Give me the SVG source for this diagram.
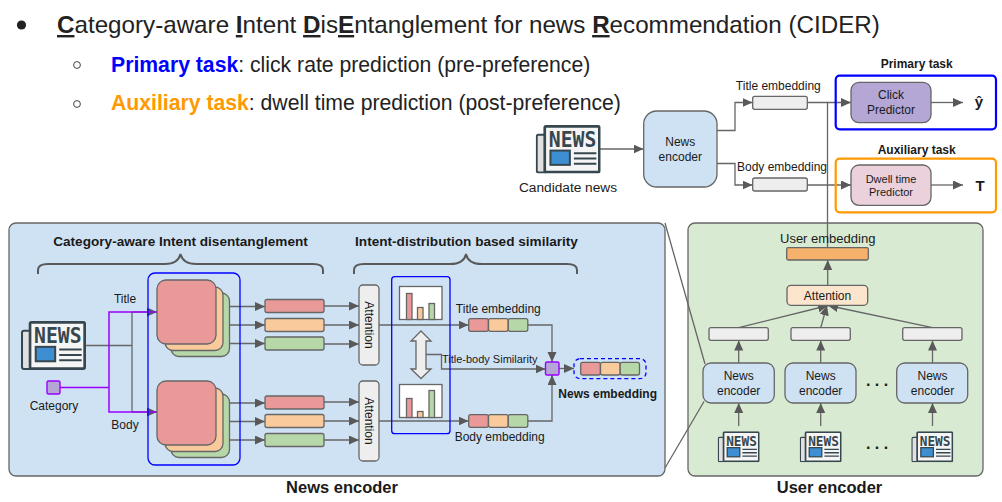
<svg xmlns="http://www.w3.org/2000/svg" xmlns:xlink="http://www.w3.org/1999/xlink" width="1002" height="502" viewBox="0 0 1002 502">
<style>
text{font-family:"Liberation Sans",Arial,sans-serif;fill:#1a1a1a;text-anchor:middle}
.h{font-size:24.2px;text-anchor:start;fill:#222}
.h2{font-size:21.2px;text-anchor:start;fill:#222}
.s{font-size:12px}
.b{font-weight:bold}
.box{stroke:#666;stroke-width:1.3}
.l{fill:none;stroke:#666;stroke-width:1.3}
.a{marker-end:url(#ah)}
.r{fill:#ea9999}.o{fill:#f9cb9c}.g{fill:#b6d7a8}.w{fill:#eee}
.p{fill:#b4a7d6;stroke:#9900ff;stroke-width:1.4}
.ne{fill:#cfe2f3}
.u{fill:none;stroke:#595959;stroke-width:2}
.pl{fill:none;stroke:#9900ff;stroke-width:1.5}
</style>
<defs>
<marker id="ah" markerUnits="userSpaceOnUse" markerWidth="11" markerHeight="10" refX="10" refY="4.5" orient="auto"><path d="M0 0L10 4.5L0 9z" fill="#595959"/></marker>
<symbol id="news" viewBox="0 0 194 146" preserveAspectRatio="none">
<rect x="3" y="29" width="30" height="114" rx="6" fill="#e0e0e0" stroke="#37474f" stroke-width="6"/>
<rect x="27" y="4" width="163" height="138" rx="4" fill="#f5f5f5" stroke="#37474f" stroke-width="8"/>
<text x="110" y="67" font-size="62" font-weight="bold" textLength="142" lengthAdjust="spacingAndGlyphs" style="font-family:'DejaVu Sans Mono',monospace;fill:#37474f">NEWS</text>
<rect x="44" y="77" width="58" height="43" fill="#3d8fd1" stroke="#37474f" stroke-width="6"/>
<path d="M114 85H181M114 101H181M114 117H181" stroke="#37474f" stroke-width="6" fill="none"/>
</symbol>
</defs>

<g id="heading">
<circle cx="21.5" cy="25" r="4.6" fill="#222"/>
<text class="h" x="57" y="33"><tspan class="b" text-decoration="underline">C</tspan>ategory-aware <tspan class="b" text-decoration="underline">I</tspan>ntent <tspan class="b" text-decoration="underline">D</tspan>is<tspan class="b" text-decoration="underline">E</tspan>ntanglement for news <tspan class="b" text-decoration="underline">R</tspan>ecommendation (CIDER)</text>
<circle cx="77" cy="65" r="3.4" fill="none" stroke="#444"/>
<text class="h2" x="111" y="72"><tspan class="b" fill="#0000ff">Primary task</tspan>: click rate prediction (pre-preference)</text>
<circle cx="77" cy="104" r="3.4" fill="none" stroke="#444"/>
<text class="h2" x="111" y="110"><tspan class="b" fill="#ff9900">Auxiliary task</tspan>: dwell time prediction (post-preference)</text>
</g>

<g id="panels">
<rect id="news-encoder-panel" class="box ne" x="9" y="223" width="656" height="253" rx="7"/>
<rect id="user-encoder-panel" class="box" x="688" y="223" width="295" height="253" rx="7" fill="#d9ead3"/>
<text class="b" x="342" y="492.500" font-size="16.500">News encoder</text>
<text class="b" x="829.500" y="492.500" font-size="16.500">User encoder</text>
<text class="b" x="180.500" y="245.500" font-size="13.600">Category-aware Intent disentanglement</text>
<text class="b" x="466.500" y="245.500" font-size="13.600">Intent-distribution based similarity</text>
</g>

<g id="connectors">
<path class="u" d="M38 274V270Q38 264 48 264H165Q178 264 180.500 254Q183 264 196 264H313Q323 264 323 270V274"/>
<path class="u" d="M354 274V270Q354 264 364 264H450Q464 264 466 254Q468 264 482 264H567Q577 264 577 270V274"/>
<path class="l" d="M86 345.500H132M132 312V412"/>
<path class="l a" d="M132 312H157"/>
<path class="l a" d="M132 412H157"/>
<path class="pl" d="M60 387.500H109M157 312H109V412H157"/>
<path class="l a" d="M216 306.500H265"/><path class="l a" d="M223 325H265"/><path class="l a" d="M229.500 343.500H265"/>
<path class="l a" d="M216 403H265"/><path class="l a" d="M223 421.500H265"/><path class="l a" d="M229.500 440H265"/>
<path class="l a" d="M324 306H359"/><path class="l a" d="M324 325H359"/><path class="l a" d="M324 344H359"/>
<path class="l a" d="M324 402H359"/><path class="l a" d="M324 421H359"/><path class="l a" d="M324 440H359"/>
<path class="l a" d="M379 325H468.500"/><path class="l a" d="M379 421H468.500"/>
<path class="l a" d="M528 325H552V362"/><path class="l a" d="M528 421H552V375"/>
<path class="l a" d="M426 354.500H441.500V369H545.500"/>
<path class="l a" d="M559 368.500H574"/>
<path class="l" d="M665 223L705 364M665 468L704 401.500"/>
<path class="l a" d="M600 149H643.500"/>
<path class="l a" d="M717 130.500H735V102.500H752.500"/>
<path class="l a" d="M717 163.500H735V185H752.500"/>
<path class="l a" d="M807 102.500H851"/>
<path class="l a" d="M807 185H851"/>
<path class="l a" d="M931 102.500H963"/>
<path class="l a" d="M931 185H963"/>
<path class="l" d="M827.500 103V260"/>
<path class="l a" d="M827.700 285V260"/>
<path class="l a" d="M738.700 327.700L828 305.500"/>
<path class="l a" d="M820.700 327.700L827 305.500"/>
<path class="l a" d="M932.500 327.700L828 305.500"/>
<path class="l a" d="M738.700 363V340.500"/><path class="l a" d="M820.700 363V340.500"/><path class="l a" d="M932.500 363V340.500"/>
<path class="l a" d="M738.700 426V403"/><path class="l a" d="M820.700 426V403"/><path class="l a" d="M932.500 426V403"/>
</g>

<g id="news-input">
<use href="#news" xlink:href="#news" x="21" y="321" width="65" height="49"/>
<rect id="category" class="p" x="47" y="381" width="13" height="13" rx="1.500"/>
<text class="s" x="54" y="410">Category</text>
<text class="s" x="125" y="303">Title</text>
<text class="s" x="125" y="429">Body</text>
</g>

<g id="intent-stacks">
<rect x="148" y="273" width="92" height="192" rx="7" fill="none" stroke="#0000ff" stroke-width="1.300"/>
<rect class="box g" x="171" y="293" width="58.500" height="63.500" rx="8"/>
<rect class="box o" x="165" y="287" width="58" height="63.500" rx="8"/>
<rect class="box r" x="157" y="280" width="59" height="64" rx="9"/>
<rect class="box g" x="171" y="394" width="58.500" height="63.500" rx="8"/>
<rect class="box o" x="165" y="388" width="58" height="63.500" rx="8"/>
<rect class="box r" x="157" y="381" width="59" height="64" rx="9"/>
</g>

<g id="intent-bars">
<rect class="box r" x="265" y="299.500" width="59" height="13" rx="2"/>
<rect class="box o" x="265" y="318.500" width="59" height="13" rx="2"/>
<rect class="box g" x="265" y="337" width="59" height="13" rx="2"/>
<rect class="box r" x="265" y="396" width="59" height="13" rx="2"/>
<rect class="box o" x="265" y="414.500" width="59" height="13" rx="2"/>
<rect class="box g" x="265" y="433.500" width="59" height="13" rx="2"/>
</g>

<g id="attention-title"><rect class="box w" x="359" y="285" width="20" height="80" rx="4"/><text class="s" transform="translate(369 325) rotate(90)" y="4">Attention</text></g>
<g id="attention-body"><rect class="box w" x="359" y="381" width="20" height="80" rx="4"/><text class="s" transform="translate(369 421) rotate(90)" y="4">Attention</text></g>

<g id="distributions">
<rect x="391.700" y="276.700" width="58.300" height="157" rx="3" fill="none" stroke="#0000ff" stroke-width="1.300"/>
<rect class="box" x="399.500" y="286.500" width="42.500" height="33" fill="#fff"/>
<rect class="box r" x="406.500" y="293.500" width="5.500" height="26"/><rect class="box o" x="417.500" y="307.500" width="5.500" height="12"/><rect class="box g" x="429" y="303.500" width="5.500" height="16"/>
<rect class="box" x="399.500" y="384.500" width="42.500" height="33" fill="#fff"/>
<rect class="box r" x="406.500" y="398.500" width="5.500" height="19"/><rect class="box o" x="417.500" y="411.500" width="5.500" height="6"/><rect class="box g" x="429" y="390.500" width="5.500" height="27"/>
<path class="box" fill="#eee" d="M421 331L431 341H426V369H431L421 378.500L411 369H416V341H411Z"/>
<text x="489.700" y="363" font-size="11">Title-body Similarity</text>
</g>

<g id="title-embedding">
<text class="s" x="498.300" y="313">Title embedding</text>
<rect class="box r" x="468.700" y="318.700" width="19.700" height="12.600" rx="2"/><rect class="box o" x="488.500" y="318.700" width="19.700" height="12.600" rx="2"/><rect class="box g" x="508.300" y="318.700" width="19.500" height="12.600" rx="2"/>
</g>
<g id="body-embedding">
<text class="s" x="499.700" y="441">Body embedding</text>
<rect class="box r" x="468.700" y="414.700" width="19.700" height="12.600" rx="2"/><rect class="box o" x="488.500" y="414.700" width="19.700" height="12.600" rx="2"/><rect class="box g" x="508.300" y="414.700" width="19.500" height="12.600" rx="2"/>
</g>
<g id="news-embedding">
<rect class="p" x="545.500" y="362" width="13.500" height="13" rx="1.500"/>
<rect x="574" y="358.700" width="72" height="20" rx="6" fill="none" stroke="#0000ff" stroke-width="1.300" stroke-dasharray="4 3"/>
<rect class="box r" x="580.700" y="362.300" width="19.700" height="12.700" rx="2"/><rect class="box o" x="600.500" y="362.300" width="19.700" height="12.700" rx="2"/><rect class="box g" x="620.200" y="362.300" width="19.300" height="12.700" rx="2"/>
<text class="s b" x="607.700" y="398">News embedding</text>
</g>

<g id="candidate">
<use href="#news" xlink:href="#news" x="535.700" y="125" width="65" height="48.500"/>
<text x="568" y="191.500" font-size="13.700">Candidate news</text>
</g>
<g id="news-encoder-top">
<rect class="box ne" x="643.700" y="111" width="73.300" height="76" rx="13"/>
<text class="s" x="680.300" y="146">News</text><text class="s" x="680.300" y="161">encoder</text>
</g>
<g id="title-vector"><text class="s" x="778.300" y="90">Title embedding</text><rect class="box w" x="752.700" y="96.300" width="54.600" height="13" rx="2"/></g>
<g id="body-vector"><text class="s" x="782" y="171">Body embedding</text><rect class="box w" x="752.700" y="178" width="54.600" height="13" rx="2"/></g>
<g id="primary-task">
<text class="s b" x="916.700" y="68">Primary task</text>
<rect x="835.700" y="75.700" width="160.300" height="53.600" rx="4" fill="none" stroke="#0000ff" stroke-width="2.200"/>
<rect class="box" x="851" y="82.300" width="80" height="40.400" rx="8" fill="#b4a7d6"/>
<text class="s" x="891" y="99">Click</text><text class="s" x="891" y="114">Predictor</text>
<text class="b" x="979" y="107" font-size="15">ŷ</text>
</g>
<g id="auxiliary-task">
<text class="s b" x="916.700" y="154">Auxiliary task</text>
<rect x="835.700" y="158.700" width="160.300" height="53.600" rx="4" fill="none" stroke="#ff9900" stroke-width="2.200"/>
<rect class="box" x="851" y="165" width="80" height="40.300" rx="8" fill="#ead1dc"/>
<text x="891" y="183" font-size="11">Dwell time</text><text x="891" y="196" font-size="11">Predictor</text>
<text class="b" x="980" y="190.500" font-size="15">T</text>
</g>

<g id="user-embedding">
<text x="827.700" y="243" font-size="13">User embedding</text>
<rect class="box" x="786.700" y="247.700" width="81.600" height="12.300" rx="1.500" fill="#f6b26b"/>
</g>
<g id="user-attention"><rect class="box" x="787" y="285.300" width="80.700" height="20" rx="4" fill="#fce5cd"/><text class="s" x="827.500" y="299.500">Attention</text></g>

<g id="user-col-1">
<rect class="box w" x="709" y="327.700" width="59.300" height="12.600" rx="2"/>
<rect class="box ne" x="703" y="363" width="71.300" height="40" rx="8"/>
<text class="s" x="738.700" y="380">News</text><text class="s" x="738.700" y="395">encoder</text>
<use href="#news" xlink:href="#news" x="717.700" y="431.300" width="42" height="31"/>
</g>
<g id="user-col-2">
<rect class="box w" x="791" y="327.700" width="59.300" height="12.600" rx="2"/>
<rect class="box ne" x="785" y="363" width="71" height="40" rx="8"/>
<text class="s" x="820.700" y="380">News</text><text class="s" x="820.700" y="395">encoder</text>
<use href="#news" xlink:href="#news" x="799.700" y="431.300" width="42" height="31"/>
</g>
<g id="user-col-3">
<rect class="box w" x="902.700" y="327.700" width="59.300" height="12.600" rx="2"/>
<rect class="box ne" x="896.700" y="363" width="71" height="40" rx="8"/>
<text class="s" x="932.500" y="380">News</text><text class="s" x="932.500" y="395">encoder</text>
<use href="#news" xlink:href="#news" x="911.300" y="431.300" width="42" height="31"/>
</g>
<g id="ellipsis">
<text class="b" x="877" y="386" font-size="16">. . .</text>
<text class="b" x="877" y="449" font-size="16">. . .</text>
</g>
</svg>
